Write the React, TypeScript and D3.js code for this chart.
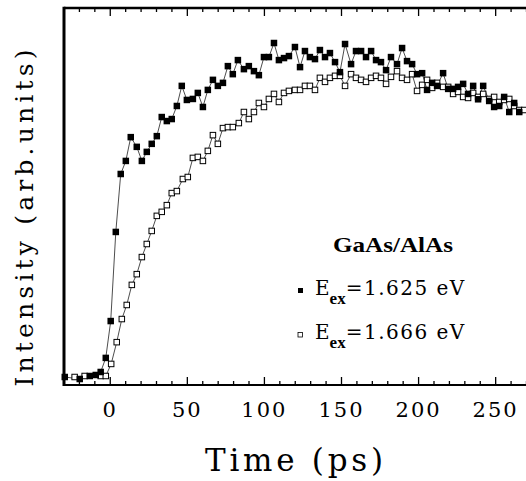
import React from "react";
import * as d3 from "d3";

const filledTime = [-29.5, -19.8, -13.3, -9.4, -6.2, -2.9, 0.3, 3.6, 6.8, 10.1, 13.3, 17.2, 20.5, 23.7, 26.9, 30.2, 33.4, 36.7, 39.9, 43.2, 46.4, 49.7, 53.6, 56.8, 60.1, 63.3, 66.6, 69.8, 73.1, 76.3, 79.5, 82.8, 86.7, 89.9, 93.2, 96.4, 99.7, 102.9, 106.2, 109.4, 112.7, 115.9, 119.8, 123.1, 126.3, 129.5, 132.8, 136.0, 139.3, 142.5, 145.8, 149.0, 152.3, 156.2, 159.4, 162.7, 165.9, 169.2, 172.4, 175.6, 178.9, 182.1, 186.0, 189.3, 192.5, 195.8, 199.0, 202.3, 205.5, 208.8, 212.0, 215.9, 219.2, 222.4, 225.6, 228.9, 232.1, 235.4, 238.6, 241.9, 245.8, 249.0, 252.3, 255.5, 258.8, 262.0, 265.3];
const filledIntensity = [0, -0.6, 0.3, 0.6, 1.5, 5.7, 16.7, 43.3, 60.6, 64.5, 71.6, 68.7, 64.5, 67.2, 69.6, 71.9, 77.6, 76.4, 77.0, 80.9, 86.9, 82.7, 83.0, 84.8, 80.6, 85.7, 88.7, 86.9, 87.8, 92.8, 90.4, 94.6, 91.9, 92.8, 91.3, 90.1, 95.5, 95.5, 99.7, 94.6, 95.2, 95.8, 98.5, 92.5, 97.3, 95.5, 94.9, 97.6, 95.5, 96.7, 94.0, 91.0, 99.4, 93.4, 97.3, 97.3, 95.5, 97.3, 94.6, 94.0, 91.6, 95.5, 93.4, 98.2, 94.3, 93.4, 90.4, 90.7, 85.7, 87.8, 86.9, 90.7, 86.0, 86.0, 86.6, 87.5, 84.5, 86.9, 82.9, 86.9, 82.4, 80.6, 80.9, 83.6, 79.1, 81.8, 79.1];

const openTime = [-23.1, -16.6, -6.2, -2.9, 0.6, 4.2, 7.5, 10.7, 14.0, 17.2, 20.5, 23.7, 26.9, 30.2, 33.4, 36.7, 39.9, 43.2, 47.1, 50.3, 53.6, 56.8, 60.1, 63.3, 66.6, 69.8, 73.1, 76.3, 79.5, 83.4, 86.7, 89.9, 93.2, 96.4, 99.7, 102.9, 106.2, 109.4, 112.7, 115.9, 119.8, 123.1, 126.3, 129.5, 132.8, 136.0, 139.3, 142.5, 145.8, 149.0, 152.3, 156.2, 159.4, 162.7, 165.9, 169.2, 172.4, 175.6, 178.9, 182.1, 186.0, 189.3, 192.5, 195.8, 199.0, 202.3, 205.5, 208.8, 212.0, 215.9, 219.2, 222.4, 225.6, 228.9, 232.1, 235.4, 238.6, 241.9, 245.8, 249.0, 252.3, 255.5, 258.8, 262.0, 265.3, 268.5];
const openIntensity = [0, 0.3, 0.3, 0.3, 3.9, 10.4, 17.3, 21.5, 27.5, 30.7, 35.8, 39.7, 43.6, 48.1, 49.3, 51.3, 54.9, 55.5, 59.1, 59.7, 65.4, 65.7, 64.5, 67.5, 72.2, 69.6, 74.3, 74.6, 74.6, 75.8, 79.1, 77.0, 79.1, 81.8, 80.6, 83.0, 84.5, 82.1, 84.8, 85.4, 85.7, 85.7, 86.9, 86.9, 85.7, 89.3, 88.1, 89.3, 89.9, 89.9, 86.9, 90.4, 89.3, 88.7, 88.1, 89.3, 89.9, 89.3, 87.5, 89.6, 91.3, 89.3, 88.7, 90.4, 85.4, 87.2, 88.7, 86.3, 87.8, 86.6, 86.6, 84.5, 85.1, 83.6, 83.3, 84.8, 83.6, 84.5, 83.0, 83.6, 82.1, 82.7, 83.0, 80.9, 79.7, 79.7];

const xTickLabels = [0, 50, 100, 150, 200, 250];
const minorTicks = d3.range(-20, 271, 10);
const legendTitle = "GaAs/AlAs";
const legendEnergies = ["=1.625 eV", "=1.666 eV"];

const W = 526;
const H = 481;
const FONT = "'DejaVu Serif', serif";
const BFONT = "Liberation Serif, Times New Roman, Times, serif";

export default function App() {
  const x = d3.scaleLinear().domain([-30, 270]).range([64, 526.5]);
  const y = d3.scaleLinear().domain([0, 100]).range([377, 42]);
  const line = d3.line<[number, number]>().x((d) => x(d[0])).y((d) => y(d[1]));
  const filled: [number, number][] = filledTime.map((t, i) => [t, filledIntensity[i]]);
  const open: [number, number][] = openTime.map((t, i) => [t, openIntensity[i]]);
  const top = 8;
  const bottom = 385;
  const s = 5.5;
  return (
    <svg width={W} height={H} style={{ display: "block", position: "absolute", left: 0, top: 0 }}>
      <rect width={W} height={H} fill="white" />
      {/* frame */}
      <line x1={64} x2={W} y1={top} y2={top} stroke="black" strokeWidth={2.5} />
      <line x1={64} x2={64} y1={top - 1.25} y2={bottom + 1} stroke="black" strokeWidth={3} />
      <line x1={64} x2={W} y1={bottom} y2={bottom} stroke="black" strokeWidth={2} />
      {minorTicks.map((t) => {
        const major = t % 50 === 0;
        const len = major ? 8 : 4;
        return (
          <g key={t}>
            <line x1={x(t)} x2={x(t)} y1={bottom} y2={bottom - len} stroke="black" strokeWidth={1.3} />
            <line x1={x(t)} x2={x(t)} y1={top} y2={top + len} stroke="black" strokeWidth={1.3} />
          </g>
        );
      })}
      {xTickLabels.map((t) => (
        <text key={t} x={x(t)} y={417} textAnchor="middle" fontFamily={FONT} fontSize={21} letterSpacing={2}>
          {t}
        </text>
      ))}
      <text x={294} y={471} textAnchor="middle" fontFamily={FONT} fontSize={31} textLength={178} lengthAdjust="spacing">
        Time (ps)
      </text>
      <text
        transform={`translate(33,218) rotate(-90)`}
        textAnchor="middle"
        fontFamily={FONT}
        fontSize={25}
        textLength={337}
        lengthAdjust="spacing"
      >
        Intensity (arb.units)
      </text>
      {/* series */}
      <path d={line(filled) || ""} fill="none" stroke="black" strokeWidth={0.7} />
      <path d={line(open) || ""} fill="none" stroke="black" strokeWidth={0.7} />
      {open.map((d, i) => (
        <rect key={"o" + i} x={x(d[0]) - s / 2} y={y(d[1]) - s / 2} width={s} height={s} fill="white" stroke="black" strokeWidth={1} />
      ))}
      {filled.map((d, i) => (
        <rect key={"f" + i} x={x(d[0]) - s / 2 - 0.5} y={y(d[1]) - s / 2 - 0.5} width={s + 1} height={s + 1} fill="black" />
      ))}
      {/* legend */}
      <text x={333} y={252} style={{ fontFamily: BFONT, fontWeight: 700 }} fontSize={21} textLength={120} lengthAdjust="spacingAndGlyphs">
        {legendTitle}
      </text>
      <rect x={298} y={288} width={5} height={5} fill="black" />
      <rect x={298} y={332.5} width={4.5} height={4.5} fill="white" stroke="black" strokeWidth={0.8} />
      {legendEnergies.map((e, i) => (
        <text key={e} x={315} y={295 + i * 44} fontFamily={FONT} fontSize={20}>
          E
          <tspan style={{ fontFamily: BFONT, fontWeight: 700 }} fontSize={17} dy={9}>ex</tspan>
          <tspan dy={-9} letterSpacing={1.5}>{e}</tspan>
        </text>
      ))}
    </svg>
  );
}
